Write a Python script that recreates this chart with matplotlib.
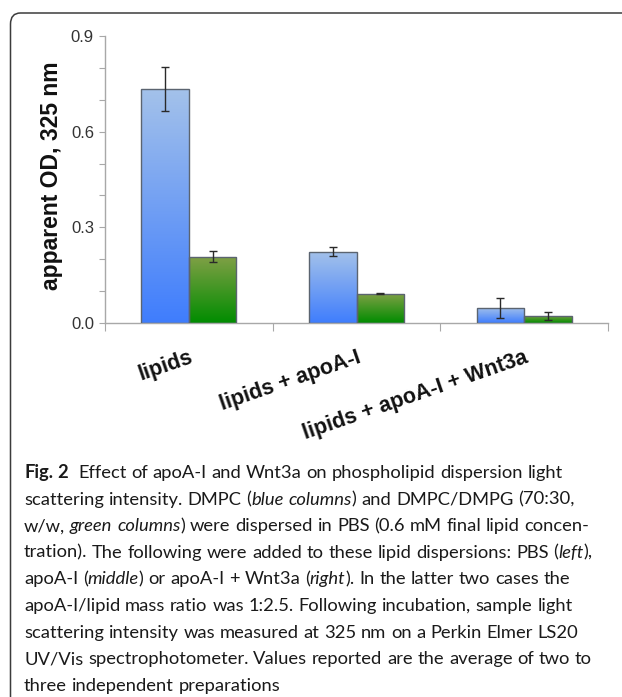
import matplotlib
matplotlib.use('Agg')
import matplotlib.pyplot as plt
import numpy as np
from matplotlib.patches import FancyBboxPatch
from matplotlib.colors import LinearSegmentedColormap

# ---------------- data ----------------
categories = ['lipids', 'lipids + apoA-I', 'lipids + apoA-I + Wnt3a']
dmpc = [0.734, 0.224, 0.048]
dmpc_err = [0.069, 0.014, 0.031]
dmpg = [0.208, 0.092, 0.022]
dmpg_err = [0.017, 0.002, 0.012]
y_ticks = [0.0, 0.3, 0.6, 0.9]
y_tick_labels = ['0.0', '0.3', '0.6', '0.9']
y_label = 'apparent OD, 325 nm'

# caption: list of lines, each a list of (text, style)
caption_lines = [
    [('Fig. 2', 'bold'), ('  Effect of apoA-I and Wnt3a on phospholipid dispersion light', 'normal')],
    [('scattering intensity. DMPC (', 'normal'), ('blue columns', 'italic'), (') and DMPC/DMPG (70:30,', 'normal')],
    [('w/w, ', 'normal'), ('green columns', 'italic'), (') were dispersed in PBS (0.6 mM final lipid concen-', 'normal')],
    [('tration). The following were added to these lipid dispersions: PBS (', 'normal'), ('left', 'italic'), ('),', 'normal')],
    [('apoA-I (', 'normal'), ('middle', 'italic'), (') or apoA-I + Wnt3a (', 'normal'), ('right', 'italic'), ('). In the latter two cases the', 'normal')],
    [('apoA-I/lipid mass ratio was 1:2.5. Following incubation, sample light', 'normal')],
    [('scattering intensity was measured at 325 nm on a Perkin Elmer LS20', 'normal')],
    [('UV/Vis spectrophotometer. Values reported are the average of two to', 'normal')],
    [('three independent preparations', 'normal')],
]

W, H = 622, 697
fig = plt.figure(figsize=(W / 100, H / 100), dpi=100)

def px(x, y):
    return x / W, 1 - y / H

# border box (rounded corner, extends past the canvas on right/bottom)
box = FancyBboxPatch((10.5 / W, -0.2), 1.5, 1 - 13 / H + 0.2,
                     boxstyle='round,pad=0,rounding_size=0.016',
                     transform=fig.transFigure, fill=False,
                     edgecolor='#3c3c3c', linewidth=1.1, clip_on=False)
fig.patches.append(box)

ax = fig.add_axes([105 / W, 1 - 323 / H, (608 - 105) / W, (323 - 36) / H])

x = np.arange(len(categories))
bw = 0.283
blue_cmap = LinearSegmentedColormap.from_list('b', ['#3f7dfd', '#a4c2ea'])
green_cmap = LinearSegmentedColormap.from_list('g', ['#008c00', '#81a046'])
grad = np.linspace(0, 1, 256).reshape(-1, 1)

def grad_bars(xs, vals, cmap):
    bars = ax.bar(xs, vals, width=bw, facecolor='none', edgecolor='#5b6470',
                  linewidth=1.0, zorder=3)
    for b in bars:
        x0, y0 = b.get_x(), b.get_y()
        w, h = b.get_width(), b.get_height()
        im = ax.imshow(grad, extent=[x0, x0 + w, y0, y0 + h], origin='lower',
                       cmap=cmap, aspect='auto', zorder=2, interpolation='bicubic')
        im.set_clip_path(b)
    return bars

grad_bars(x - bw / 2, dmpc, blue_cmap)
grad_bars(x + bw / 2, dmpg, green_cmap)
ax.set_xlim(-0.5, 2.5)
ax.set_ylim(0, 0.9)

ax.errorbar(x - bw / 2, dmpc, yerr=dmpc_err, fmt='none', ecolor='#2a2a2a',
            elinewidth=1.0, capsize=3, capthick=1.0, zorder=4)
ax.errorbar(x + bw / 2, dmpg, yerr=dmpg_err, fmt='none', ecolor='#2a2a2a',
            elinewidth=1.0, capsize=3, capthick=1.0, zorder=4)

for s in ['top', 'right']:
    ax.spines[s].set_visible(False)
for s in ['left', 'bottom']:
    ax.spines[s].set_color('#a8a8a8')
    ax.spines[s].set_linewidth(1.0)

ax.set_yticks(y_ticks)
ax.set_yticklabels(y_tick_labels, fontfamily='Liberation Sans', fontsize=12, color='#333333')
ax.set_yticks(np.arange(0, 0.91, 0.1), minor=True)
ax.tick_params(axis='y', which='both', direction='out', length=4, width=0.8,
               color='#a8a8a8', pad=4)

ax.set_xticks(x)
ax.set_xticklabels(categories, fontfamily='Liberation Sans', fontweight='bold',
                   fontsize=15.5, rotation=19, ha='right', rotation_mode='anchor',
                   color='#111111')
ax.set_xticks([-0.5, 0.5, 1.5, 2.5], minor=True)
ax.tick_params(axis='x', which='major', length=0, pad=17)
ax.tick_params(axis='x', which='minor', length=6, width=0.8, color='#a8a8a8', direction='out')

fig.text(*px(52, 176), y_label, rotation=90, ha='center', va='center',
         fontfamily='Liberation Sans', fontweight='bold', fontsize=16.5, color='#111111')

# ---------------- caption ----------------
cap_font = 'Lato'
cap_size = 13.2
renderer = fig.canvas.get_renderer()

def text_w(s, style):
    t = fig.text(0, 0, s, fontfamily=cap_font, fontsize=cap_size,
                 fontweight='bold' if style == 'bold' else 'normal',
                 fontstyle='italic' if style == 'italic' else 'normal')
    w = t.get_window_extent(renderer).width
    t.remove()
    return w

space_w = text_w('x x', 'normal') - text_w('xx', 'normal')

x_left = 24
y0 = 478
dy = 26.6
for i, line in enumerate(caption_lines):
    cx = x_left
    cy = y0 + i * dy
    for seg, style in line:
        parts = seg.split(' ')
        for j, wd in enumerate(parts):
            if j > 0:
                cx += space_w
            if wd == '':
                continue
            t = fig.text(*px(cx, cy), wd, fontfamily=cap_font, fontsize=cap_size,
                         fontweight='bold' if style == 'bold' else 'normal',
                         fontstyle='italic' if style == 'italic' else 'normal',
                         color='#1a1a1a', ha='left', va='baseline')
            cx += t.get_window_extent(renderer).width

fig.savefig('out.png', dpi=100)
